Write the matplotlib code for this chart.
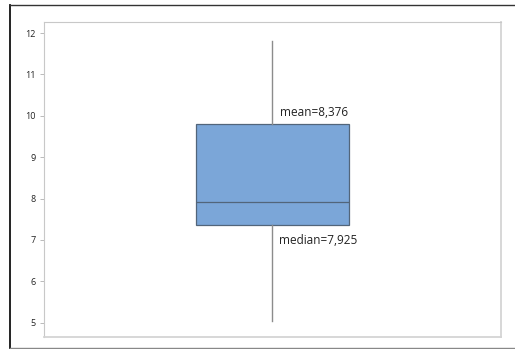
import matplotlib.pyplot as plt
from matplotlib.lines import Line2D

# summary statistics of the sample
whisker_low = 5.05
q1 = 7.35
median = 7.925
q3 = 9.8
whisker_high = 11.82
mean = 8.376
y_ticks = [5, 6, 7, 8, 9, 10, 11, 12]

plt.rcParams['font.family'] = ['Open Sans', 'DejaVu Sans']

fig = plt.figure(figsize=(5.15, 3.49), dpi=100)
ax = fig.add_axes([0.0854, 0.0352, 0.8874, 0.9009])

stats = [{
    'whislo': whisker_low, 'q1': q1, 'med': median, 'q3': q3,
    'whishi': whisker_high, 'mean': mean, 'fliers': [],
}]
ax.bxp(stats, positions=[1], widths=0.5, patch_artist=True,
       showcaps=False, showfliers=False, showmeans=False,
       boxprops=dict(facecolor='#7ba6d8', edgecolor='#52657a', linewidth=0.9),
       medianprops=dict(color='#52657a', linewidth=0.9),
       whiskerprops=dict(color='#8c8c8c', linewidth=1.0))

ax.annotate(f'mean={mean:.3f}'.replace('.', ','), xy=(1, q3),
            xytext=(5.5, 3.5), textcoords='offset points',
            fontsize=8.5, color='#222222', va='bottom', ha='left')
ax.annotate(f'median={median:.3f}'.replace('.', ','), xy=(1, q1),
            xytext=(5, -6), textcoords='offset points',
            fontsize=8.5, color='#222222', va='top', ha='left')

ax.set_xlim(0.25, 1.75)
ax.set_ylim(4.66, 12.26)
ax.set_xticks([])
ax.set_yticks(y_ticks)
ax.tick_params(axis='y', labelsize=6.5, length=3, width=0.6,
               color='#b0b0b0', pad=3, labelcolor='#222222')
for side in ['left', 'top']:
    ax.spines[side].set_color('#c8c8c8')
for side in ['right', 'bottom']:
    ax.spines[side].set_color('#d4d4d4')
    ax.spines[side].set_linewidth(1.3)

# outer frame
fig.add_artist(Line2D([10 / 515, 10 / 515], [1 / 349, 344 / 349],
                      color='#111111', linewidth=1.3, transform=fig.transFigure))
fig.add_artist(Line2D([10 / 515, 1], [344 / 349, 344 / 349],
                      color='#333333', linewidth=1.0, transform=fig.transFigure))
fig.add_artist(Line2D([10 / 515, 1], [1.2 / 349, 1.2 / 349],
                      color='#888888', linewidth=1.0, transform=fig.transFigure))

fig.savefig('out.png', dpi=100)
